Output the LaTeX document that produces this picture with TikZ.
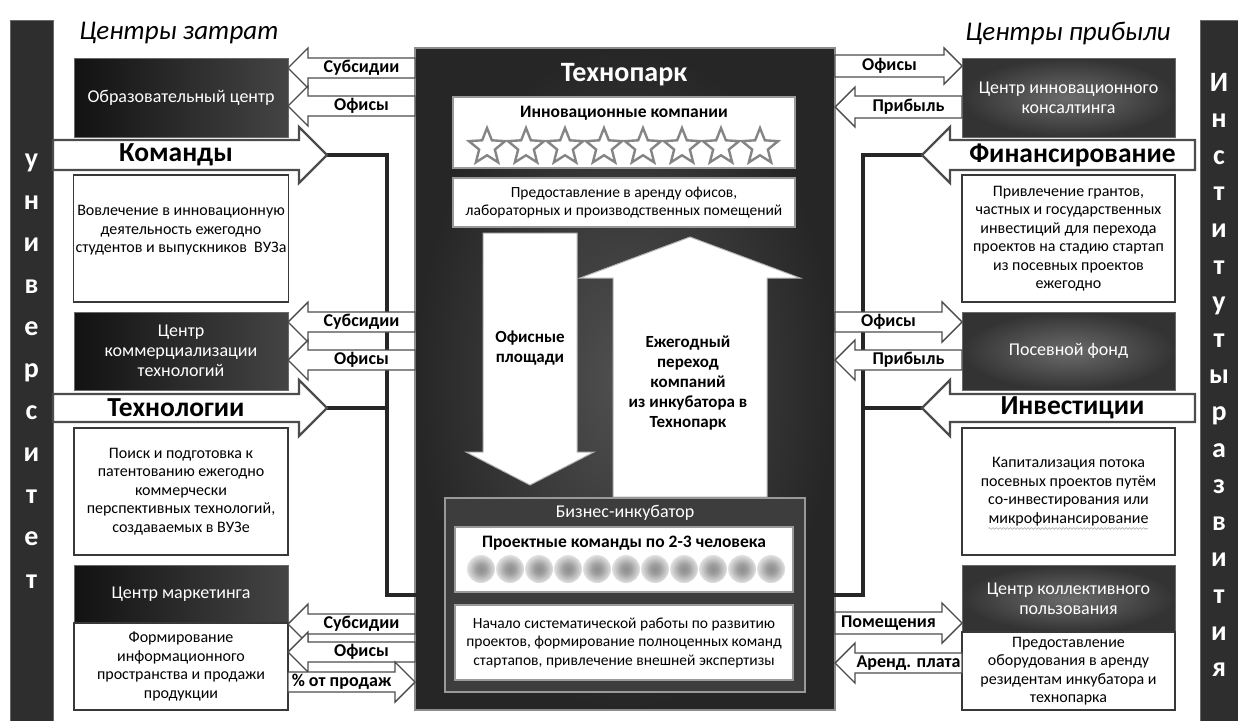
\documentclass[tikz,border=0pt]{standalone}
\usepackage{fontspec}
\setmainfont{Carlito}
\usetikzlibrary{arrows.meta, shapes.geometric, positioning, decorations.pathmorphing}
\definecolor{ParkDark}{RGB}{38,38,38}
\definecolor{ParkLight}{RGB}{80,80,80}
\definecolor{BoxBlack}{RGB}{18,18,18}
\definecolor{BoxGray}{RGB}{68,68,68}
\definecolor{EdgeGray}{RGB}{105,105,105}
\definecolor{LinkDark}{RGB}{38,38,38}
\pgfdeclarelayer{front}
\pgfsetlayers{main,front}
\pgfdeclareradialshading{blurdot}{\pgfpoint{0bp}{0bp}}{color(0bp)=(black!44); color(9bp)=(black!38); color(20bp)=(black!20); color(32bp)=(white); color(50bp)=(white)}

% block arrow: [style]{name}{tail x}{tip x}{y}{half shaft}{half head}{label}
\newcommand{\blockarrow}[8][]{%
  \pgfmathsetmacro{\headbase}{#4-#7*((#4>#3)*2-1)}
  \begin{pgfonlayer}{front}
  \draw[blkarrow,#1] (#3,#5-#6) -- (\headbase,#5-#6) -- (\headbase,#5-#7) -- (#4,#5)
    -- (\headbase,#5+#7) -- (\headbase,#5+#6) -- (#3,#5+#6) -- cycle;
  \node[arrowtext,#1] (#2) at ({(#3+\headbase)/2},#5) {#8};
  \end{pgfonlayer}
  \coordinate (#2-tip) at (#4,#5);
}

\begin{document}
\begin{tikzpicture}[x=1pt, y=-1pt,
    bar/.style={draw=EdgeGray, line width=1pt, fill=black!82, minimum width=43pt, minimum height=702pt},
    barletter/.style={text=white, font=\bfseries\fontsize{28}{30}\selectfont, anchor=base, inner sep=0pt},
    head/.style={font=\itshape\fontsize{27}{29}\selectfont},
    darkbox/.style={draw=EdgeGray, line width=0.8pt, left color=BoxBlack, right color=BoxGray, text=white, align=center, minimum width=214pt, font=\fontsize{18}{20}\selectfont},
    litebox/.style={draw=EdgeGray, line width=0.8pt, inner color=black!58, outer color=black!80, text=white, align=center, minimum width=213pt, font=\fontsize{18}{20}\selectfont},
    textbox/.style={draw=black!78, line width=1.8pt, fill=white, align=center, inner sep=2pt, minimum width=214pt, font=\fontsize{16}{18.5}\selectfont},
    park/.style={draw=black!45, line width=1.5pt, inner color=ParkLight, outer color=ParkDark},
    parkname/.style={text=white, font=\bfseries\fontsize{28}{30}\selectfont},
    parkbox/.style={draw=black!40, line width=1.5pt, fill=white, minimum width=342pt, align=center, inner sep=2pt, font=\fontsize{15.5}{18.5}\selectfont},
    boxtitle/.style={font=\bfseries\fontsize{17.5}{20}\selectfont},
    starshape/.style={star, star points=5, star point ratio=2.3, minimum size=38pt, inner sep=0pt, draw=black!48, line width=2.4pt, fill=white},
    dot/.style={circle, minimum size=28pt, inner sep=0pt, shading=blurdot},
    incub/.style={draw=black!40, line width=1.5pt, fill=black!76},
    parkarrow/.style={draw=black!30, line width=1pt, fill=white},
    blkarrow/.style={draw=black!70, line width=1.4pt, fill=white, line join=miter},
    arrowtext/.style={font=\bfseries\fontsize{18}{20}\selectfont, inner sep=0pt},
    big/.style={line width=2.4pt, font=\bfseries\fontsize{27.5}{30}\selectfont},
    link/.style={draw=LinkDark, line width=4pt, line join=miter},
    linktip/.style={-{Latex[length=12pt,width=12pt]}},
    squiggle/.style={draw=black!35, line width=0.6pt, decorate, decoration={snake, amplitude=0.9pt, segment length=3.5pt}}]
  \useasboundingbox (0,0) rectangle (1238,720);

  % side bars
  \node[bar] (uni) at (31.5,371) {};
  \foreach \ch [count=\i] in {у,н,и,в,е,р,с,и,т,е,т}
    \node[barletter] (uni-\i) at (31.5,167+42.1*\i-42.1) {\ch};
  \node[bar] (inst) at (1222,371) {};
  \foreach \ch [count=\i] in {И,н,с,т,и,т,у,т,ы,р,а,з,в,и,т,и,я}
    \node[barletter] (inst-\i) at (1219,91+36.6*\i-36.6) {\ch};

  \node[head] (costs) at (179,33) {Центры затрат};
  \node[head] (profits) at (1068,33) {Центры прибыли};

  % technopark
  \node[park, minimum width=420pt, minimum height=662pt] (park) at (625,379) {};
  \node[parkname] (parktitle) at (624,75) {Технопарк};
  \node[parkbox, minimum height=71pt] (innov) at (624,132.5) {};
  \node[boxtitle] (innovtitle) at (624,113) {Инновационные компании};
  \foreach \i in {0,...,7}
    \node[starshape] (star\i) at (487+39*\i,147) {};
  \node[parkbox, minimum height=49pt] (lease) at (624,202.5) {Предоставление в аренду офисов,\\лабораторных и производственных помещений};

  \draw[parkarrow] (483,233) -- (577,233) -- (577,452) -- (594,452) -- (530,485) -- (466,452) -- (483,452) -- cycle;
  \node[arrowtext, align=center, font=\bfseries\fontsize{17}{20}\selectfont] (officespace) at (530,348) {Офисные\\площади};
  \draw[parkarrow] (613,497) -- (613,278) -- (580,278) -- (690,237) -- (800,278) -- (767,278) -- (767,497) -- cycle;
  \node[arrowtext, align=center, font=\bfseries\fontsize{17}{20}\selectfont] (transfer) at (688,383) {Ежегодный\\переход\\компаний\\из инкубатора в\\Технопарк};

  % incubator
  \node[incub, minimum width=360pt, minimum height=194pt] (incub) at (625,595) {};
  \node[text=white, font=\fontsize{18}{20}\selectfont] (incubtitle) at (625,513) {Бизнес-инкубатор};
  \node[parkbox, minimum width=338pt, minimum height=65pt] (teambox) at (624,559.5) {};
  \node[boxtitle] (teamtitle) at (624,543) {Проектные команды по 2-3 человека};
  \foreach \i in {0,...,10}
    \node[dot] (dot\i) at (481+29*\i,569) {};
  \node[parkbox, minimum width=338pt, minimum height=75pt] (startwork) at (624,642.5) {Начало систематической работы по развитию\\проектов, формирование полноценных команд\\стартапов, привлечение внешней экспертизы};

  % cost centres
  \node[darkbox, minimum height=79pt] (edu) at (181,97.5) {Образовательный центр};
  \node[textbox, minimum height=127pt] (involve) at (181,238.5) {Вовлечение в инновационную\\деятельность ежегодно\\студентов и выпускников\ \ ВУЗа\\~};
  \node[darkbox, minimum height=78pt] (commerc) at (181,351) {Центр\\коммерциализации\\технологий};
  \node[textbox, minimum height=127pt] (search) at (181,491.5) {Поиск и подготовка к\\патентованию ежегодно\\коммерчески\\перспективных технологий,\\создаваемых в ВУЗе};
  \node[darkbox, minimum height=58pt] (market) at (181,594) {Центр маркетинга};
  \node[textbox, minimum height=87pt] (marketinfo) at (181,666.5) {Формирование\\информационного\\пространства и продажи\\продукции};

  % profit centres
  \node[litebox, minimum height=79pt] (consult) at (1068.5,97.5) {Центр инновационного\\консалтинга};
  \node[textbox, minimum width=213pt, minimum height=127pt] (grants) at (1068.5,238.5) {Привлечение грантов,\\частных и государственных\\инвестиций для перехода\\проектов на стадию стартап\\из посевных проектов\\ежегодно};
  \node[litebox, minimum height=78pt] (seed) at (1068.5,351) {Посевной фонд};
  \node[textbox, minimum width=213pt, minimum height=127pt] (capital) at (1068.5,491.5) {Капитализация потока\\посевных проектов путём\\со-инвестирования или\\микрофинансирование};
  \draw[squiggle] ([xshift=-80pt,yshift=-37pt]capital.center) -- ([xshift=79pt,yshift=-37pt]capital.center);
  \node[litebox, minimum height=67pt] (shared) at (1068.5,598.5) {Центр коллективного\\пользования};
  \node[textbox, minimum width=213pt, minimum height=78pt] (equip) at (1068.5,671) {Предоставление\\оборудования в аренду\\резидентам инкубатора и\\технопарка};

  % flows
  \blockarrow{subs1}{415}{288}{68}{10}{20}{Субсидии}
  \blockarrow{offl1}{415}{288}{106}{10}{20}{Офисы}
  \blockarrow[big]{teams}{53}{327}{155}{15}{28}{Команды}
  \blockarrow{subs2}{415}{288}{322}{10}{20}{Субсидии}
  \blockarrow{offl2}{415}{288}{360}{10}{20}{Офисы}
  \blockarrow[big]{techs}{53}{327}{408}{14}{28}{Технологии}
  \blockarrow{subs3}{415}{288}{624}{10}{20}{Субсидии}
  \blockarrow{offl3}{415}{288}{652}{10}{20}{Офисы}
  \blockarrow{sales}{288}{415}{682}{10}{20}{\% от продаж}

  \blockarrow{offr1}{835}{962}{66}{11}{18}{Офисы}
  \blockarrow{gain1}{962}{835}{107}{11}{20}{Прибыль}
  \blockarrow[big]{finance}{1195}{922}{155}{15}{28}{Финансирование}
  \blockarrow{offr2}{835}{962}{322}{10}{20}{Офисы}
  \blockarrow{gain2}{962}{835}{360}{10}{20}{Прибыль}
  \blockarrow[big]{invest}{1195}{922}{408}{14}{28}{Инвестиции}
  \blockarrow{rooms}{835}{962}{623}{11}{20}{Помещения}
  \blockarrow{rent}{962}{835}{663}{10}{20}{Аренд. плата}

  % links into the incubator
  \coordinate (joinL) at (387,595);
  \coordinate (joinR) at (863,595);
  \draw[link, linktip] (teams-tip) -| (joinL) -- (incub.west);
  \draw[link] (techs-tip) -- (techs-tip -| joinL);
  \draw[link, linktip] (finance-tip) -| (joinR) -- (incub.east);
  \draw[link] (invest-tip) -- (invest-tip -| joinR);
\end{tikzpicture}
\end{document}
